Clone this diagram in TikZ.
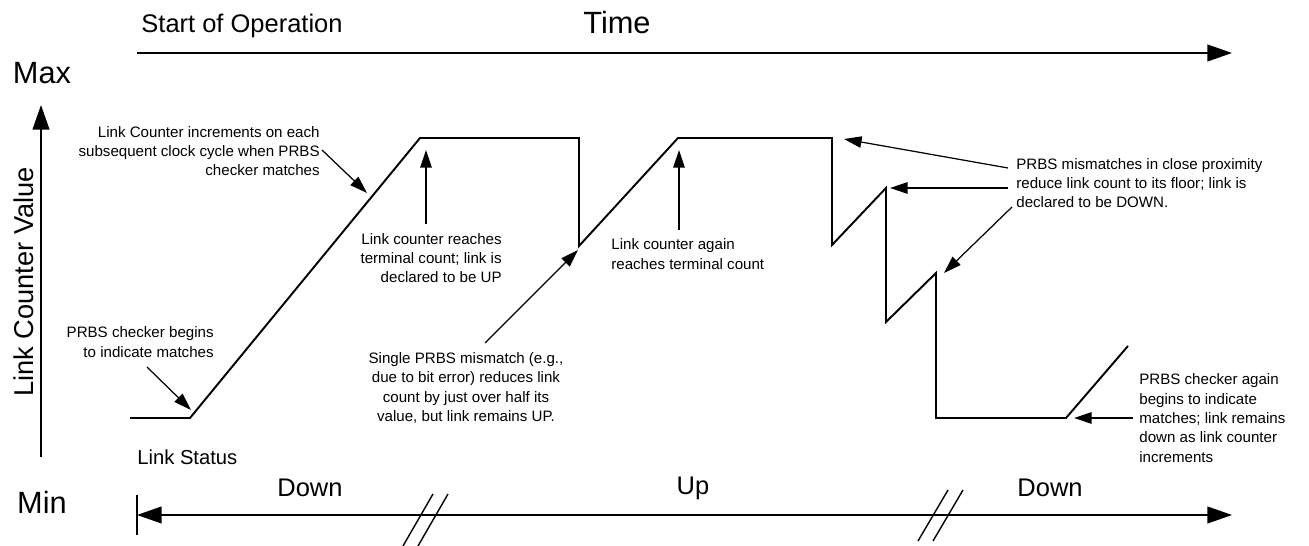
\documentclass[tikz,border=0pt]{standalone}
\usepackage{fontspec}
\setmainfont{Liberation Sans}
\usetikzlibrary{arrows.meta}

\begin{document}
\begin{tikzpicture}[x=0.02cm, y=-0.02cm,
  wave/.style={line width=1.1pt, line join=miter},
  axis/.style={line width=1.1pt, -{Triangle[length=14pt, width=9.5pt]}},
  status/.style={line width=1.1pt, {Triangle[length=14pt, width=9.5pt]}-{Triangle[length=14pt, width=9.5pt]}},
  pointer/.style={line width=0.7pt, -{Triangle[length=10pt, width=6.5pt]}},
  hashmark/.style={line width=0.8pt},
  note/.style={font=\fontsize{8.6}{11}\selectfont, inner sep=0pt},
  label/.style={font=\fontsize{14.5}{17}\selectfont, inner sep=0pt},
  biglabel/.style={font=\fontsize{17.5}{20}\selectfont, inner sep=0pt}]
\useasboundingbox (0,0) rectangle (1309,546);

% Axes
\coordinate (tstart) at (137,53);
\coordinate (tend) at (1232,53);
\draw[axis] (tstart) -- (tend);
\coordinate (ybot) at (41,457);
\coordinate (ytop) at (41,105);
\draw[axis] (ybot) -- (ytop);

\node[biglabel] (timelbl) at (617,23) {Time};
\node[label] (startlbl) at (242,26) {Start of Operation};
\node[biglabel] (maxlbl) at (42,73) {Max};
\node[biglabel] (minlbl) at (42,502) {Min};
\node[label, font=\fontsize{15.5}{18}\selectfont, rotate=90] (valuelbl) at (24,282) {Link Counter Value};

% Link status line
\node[note, font=\fontsize{11.5}{14}\selectfont, anchor=west] (statuslbl) at (137,457) {Link Status};
\coordinate (sleft) at (137,515);
\coordinate (sright) at (1232,515);
\draw[status] (sleft) -- (sright);
\draw[line width=1.1pt] (137,495) -- (137,535);
\draw[hashmark] (433,494) -- (403,546);
\draw[hashmark] (448,494) -- (418,546);
\draw[hashmark] (948,490) -- (918,541);
\draw[hashmark] (963,490) -- (933,541);
\node[label] (downA) at (310,488) {Down};
\node[label] (upB) at (693,488) {Up};
\node[label] (downC) at (1050,488) {Down};

% Counter waveform
\draw[wave] (130,418) -- (190,418) -- (420,138) -- (579,138) -- (579,246)
  -- (678,138) -- (832,138) -- (832,245) -- (886,188) -- (886,322)
  -- (936,273) -- (936,418) -- (1066,418) -- (1128,346);

% Notes
\node[note, align=right, anchor=east] (incnote) at (320,151)
  {Link Counter increments on each\\subsequent clock cycle when PRBS\\checker matches};
\node[note, align=right, anchor=east] (upnote) at (502,258)
  {Link counter reaches\\terminal count; link is\\declared to be UP};
\node[note, align=right, anchor=east] (beginnote) at (214,342)
  {PRBS checker begins\\to indicate matches};
\node[note, align=center] (dipnote) at (466,388)
  {Single PRBS mismatch (e.g.,\\due to bit error) reduces link\\count by just over half its\\value, but link remains UP.};
\node[note, align=left, anchor=west] (againnote) at (611,254)
  {Link counter again\\reaches terminal count};
\node[note, align=left, anchor=west] (floornote) at (1016,183)
  {PRBS mismatches in close proximity\\reduce link count to its floor; link is\\declared to be DOWN.};
\node[note, align=left, anchor=west] (resumenote) at (1139,418)
  {PRBS checker again\\begins to indicate\\matches; link remains\\down as link counter\\increments};

% Pointers
\coordinate (incA) at (322,150);  \coordinate (incB) at (367,193);
\coordinate (upA) at (426,224);   \coordinate (upT) at (426,150);
\coordinate (begA) at (147,367);  \coordinate (begB) at (191,410);
\coordinate (dipA) at (485,343);  \coordinate (dipB) at (578,250);
\coordinate (agA) at (679,230);   \coordinate (agT) at (679,150);
\coordinate (flA) at (1008,168);  \coordinate (flB) at (844,139);
\coordinate (flC) at (1008,188);  \coordinate (flD) at (890,188);
\coordinate (flE) at (1012,207);  \coordinate (flF) at (944,273);
\coordinate (reA) at (1133,418);  \coordinate (reB) at (1074,418);
\draw[pointer] (incA) -- (incB);
\draw[pointer] (upA) -- (upT);
\draw[pointer] (begA) -- (begB);
\draw[pointer] (dipA) -- (dipB);
\draw[pointer] (agA) -- (agT);
\draw[pointer] (flA) -- (flB);
\draw[pointer] (flC) -- (flD);
\draw[pointer] (flE) -- (flF);
\draw[pointer] (reA) -- (reB);
\end{tikzpicture}
\end{document}
